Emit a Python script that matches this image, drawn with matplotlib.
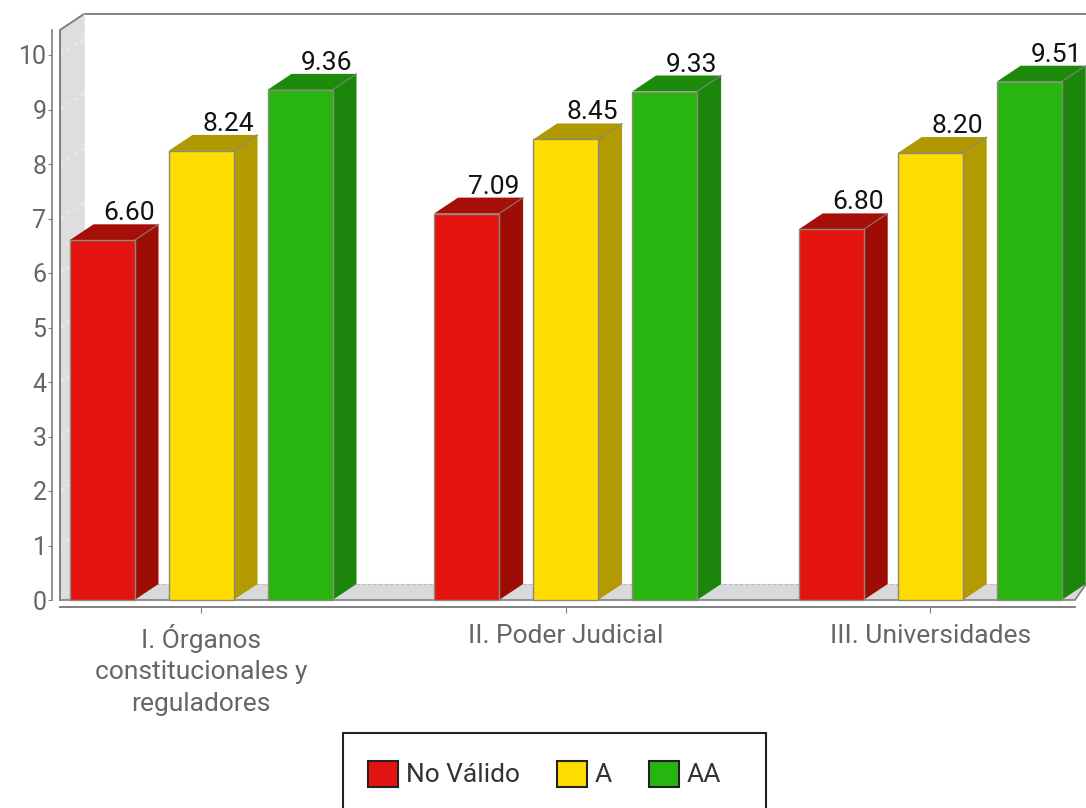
# Bars with a fake 3D look, drawn as polygons on a normal axes
import matplotlib
matplotlib.use('Agg')
import matplotlib.pyplot as plt
from matplotlib.patches import Polygon, Rectangle, Patch

plt.rcParams['font.family'] = ['Roboto', 'DejaVu Sans']

categories = ['I. Órganos\nconstitucionales y\nreguladores', 'II. Poder Judicial', 'III. Universidades']
series_names = ['No Válido', 'A', 'AA']
no_valido = [6.60, 7.09, 6.80]
nivel_a = [8.24, 8.45, 8.20]
nivel_aa = [9.36, 9.33, 9.51]
y_ticks = [0, 1, 2, 3, 4, 5, 6, 7, 8, 9, 10]

front_colors = ['#E3140F', '#FFDD00', '#29B50F']
side_colors = ['#9E0C06', '#B29A00', '#1B860B']
top_colors = ['#A80E08', '#B09800', '#1E8A0B']

W, H = 1086, 808
px_x = 364.6  # pixels per category
px_y = 54.5   # pixels per unit

fig = plt.figure(figsize=(W / 100, H / 100), dpi=100)
ax = fig.add_axes([52 / W, (H - 607) / H, 1034 / W, 577 / H])
ax.set_xlim((52 - 201) / px_x, (1086 - 201) / px_x)
ax.set_ylim(-7 / px_y, 570 / px_y)

dx = 24 / px_x
dy = 16 / px_y
bar_w = 65 / px_x
offset = 99 / px_x

left = (60 - 201) / px_x
right = (1075 - 201) / px_x
end = (1086 - 201) / px_x
wall_top = 570 / px_y

# wall and floor
ax.add_patch(Polygon([(left, 0), (left, wall_top), (left + dx, wall_top + dy), (left + dx, dy)],
                     fc='#DEDEDE', ec='none', clip_on=False, zorder=1))
ax.add_patch(Polygon([(left, 0), (left + dx, dy), (end, dy), (right, 0)],
                     fc='#D9D9DC', ec='none', clip_on=False, zorder=1))
for t in y_ticks[1:]:
    ax.plot([left, left + dx], [t, t + dy], color='white', lw=1, alpha=0.5, ls=(0, (3, 3)), zorder=2)
ax.plot([left + dx, end], [dy, dy], color='#BBBBBB', lw=0.8, ls=(0, (3, 2)), zorder=2)
ax.plot([left, left, left + dx, end], [0, wall_top, wall_top + dy, wall_top + dy],
        color='#808080', lw=1.4, clip_on=False, zorder=2)
ax.plot([left + dx, left + dx], [dy, wall_top + dy], color='#E8E8E8', lw=0.8, clip_on=False, zorder=2)
ax.plot([left, right, end], [0, 0, dy], color='#808080', lw=1.2, clip_on=False, zorder=2)

# bars
values = [no_valido, nivel_a, nivel_aa]
for s, vals in enumerate(values):
    for i, v in enumerate(vals):
        x0 = i + (s - 1) * offset - bar_w / 2
        x1 = x0 + bar_w
        ax.add_patch(Polygon([(x1, 0), (x1 + dx, dy), (x1 + dx, v + dy), (x1, v)],
                             fc=side_colors[s], ec='none', zorder=3))
        ax.add_patch(Polygon([(x0, v), (x0 + dx, v + dy), (x1 + dx, v + dy), (x1, v)],
                             fc=top_colors[s], ec='none', zorder=3))
        ax.plot([x1, x1 + dx], [v, v + dy], color='#808080', lw=1, alpha=0.7, zorder=4)
        ax.add_patch(Rectangle((x0, 0), bar_w, v, fc=front_colors[s], ec='#8A8A7A', lw=1, zorder=4))
        ax.text(x0 + bar_w / 2 + 27 / px_x, v + dy + 11 / px_y, '%.2f' % v, ha='center', va='center',
                fontsize=19, color='#111111', zorder=5)

# axes
for name in ['top', 'right']:
    ax.spines[name].set_visible(False)
ax.spines['left'].set_bounds(0, wall_top)
ax.spines['bottom'].set_bounds(left, right)
ax.spines['left'].set_color('#808080')
ax.spines['bottom'].set_color('#808080')
ax.spines['left'].set_linewidth(1.2)
ax.spines['bottom'].set_linewidth(1.4)
ax.set_yticks(y_ticks)
ax.set_xticks(range(len(categories)))
ax.set_xticklabels(categories, linespacing=1.4)
ax.tick_params(axis='y', length=3, color='#808080', labelcolor='#666666', labelsize=18, pad=1)
ax.tick_params(axis='x', length=4, color='#808080', labelcolor='#666666', labelsize=19, pad=8)
for lab in ax.get_xticklabels():
    lab.set_verticalalignment('top')

# legend box runs off the bottom of the picture
fig.add_artist(Rectangle((343 / W, -0.02), 423 / W, (H - 733) / H + 0.02, transform=fig.transFigure,
                         fc='white', ec='#222222', lw=1.5))
handles = [Patch(fc=c, ec='#222222', lw=1.5, label=n) for c, n in zip(front_colors, series_names)]
leg = fig.legend(handles=handles, ncol=3, loc='center left', bbox_to_anchor=(368 / W, (H - 774) / H),
                 frameon=False, fontsize=19, borderpad=0, borderaxespad=0, handlelength=1.14,
                 handleheight=1.14, handletextpad=0.3, columnspacing=1.4, labelcolor='#333333')
leg.set_zorder(5)

fig.savefig('out.png', dpi=100)
